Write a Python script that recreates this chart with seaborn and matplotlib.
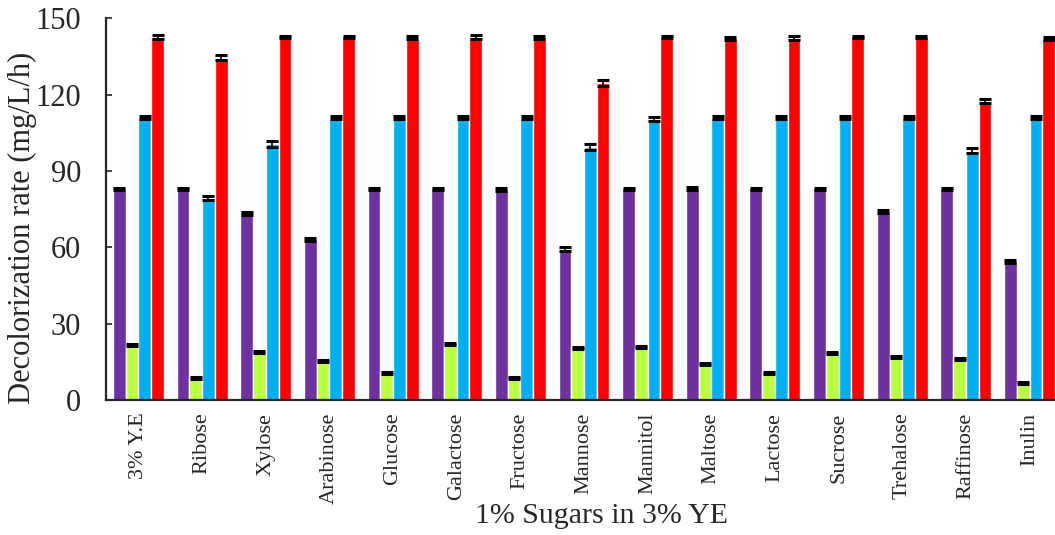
import pandas as pd
import matplotlib
matplotlib.use("Agg")
import matplotlib.pyplot as plt
import seaborn as sns

sugars = ["3% Y.E", "Ribose", "Xylose", "Arabinose", "Glucose", "Galactose",
          "Fructose", "Mannose", "Mannitol", "Maltose", "Lactose", "Sucrose",
          "Trehalose", "Raffinose", "Inulin"]
series = ["S1", "S2", "S3", "S4"]
colors = ["#7030A0", "#BBFF40", "#00B0F0", "#FF0000"]

purple = [83.0, 83.0, 73.4, 63.2, 83.0, 83.0, 82.8, 59.3, 83.0, 83.0, 83.0, 83.0, 74.0, 83.0, 54.6]
green = [21.5, 8.7, 19.0, 15.3, 10.5, 22.0, 8.7, 20.5, 21.0, 14.1, 10.5, 18.6, 16.9, 16.0, 6.8]
blue = [111.0, 79.3, 100.6, 111.0, 111.0, 111.0, 111.0, 99.5, 110.5, 111.0, 111.0, 111.0, 111.0, 98.0, 111.0]
red = [142.6, 134.5, 142.6, 142.6, 142.3, 142.6, 142.5, 124.4, 142.6, 142.1, 142.3, 142.6, 142.7, 117.5, 142.0]

err_purple = [0.5, 0.5, 0.6, 0.6, 0.5, 0.5, 0.5, 0.8, 0.5, 0.6, 0.5, 0.5, 0.6, 0.5, 0.6]
err_green = [0.4, 0.4, 0.5, 0.4, 0.4, 0.4, 0.4, 0.5, 0.4, 0.4, 0.4, 0.4, 0.4, 0.4, 0.5]
err_blue = [0.5, 0.7, 1.0, 0.5, 0.5, 0.5, 0.5, 1.1, 0.7, 0.5, 0.5, 0.5, 0.5, 1.0, 0.5]
err_red = [0.7, 0.9, 0.5, 0.5, 0.6, 0.7, 0.7, 1.2, 0.5, 0.6, 0.9, 0.5, 0.5, 0.8, 0.5]

values = [purple, green, blue, red]
errors = [err_purple, err_green, err_blue, err_red]

rows = []
for s, vals in zip(series, values):
    for sugar, v in zip(sugars, vals):
        rows.append({"sugar": sugar, "series": s, "rate": v})
df = pd.DataFrame(rows)

sns.set_style("ticks")
plt.rcParams["font.family"] = ["Liberation Serif", "DejaVu Serif"]

fig = plt.figure(figsize=(10.55, 5.35), dpi=100)
ax = fig.add_axes([0.1005, 0.252, 0.8995, 0.714])

sns.barplot(data=df, x="sugar", y="rate", hue="series", palette=colors,
            saturation=1, width=0.8, errorbar=None, legend=False, ax=ax)

# error bars on top of each bar
for cont, errs in zip(ax.containers, errors):
    xs = [b.get_x() + b.get_width() / 2 for b in cont]
    ys = [b.get_height() for b in cont]
    ax.errorbar(xs, ys, yerr=errs, fmt="none", ecolor="black",
                elinewidth=1.2, capsize=4.5, capthick=2.2, zorder=5)

ax.set_ylim(0, 150)
ax.set_yticks([0, 30, 60, 90, 120, 150])
ax.set_xlim(-0.51, 14.4)

ax.spines["top"].set_visible(False)
ax.spines["right"].set_visible(False)
ax.spines["left"].set_linewidth(1.6)
ax.spines["bottom"].set_linewidth(1.6)

ax.tick_params(axis="y", direction="in", length=4, width=1.2, labelsize=22, pad=18)
ax.tick_params(axis="x", length=0, labelsize=16, pad=9)
plt.setp(ax.get_xticklabels(), rotation=90)

ax.set_ylabel("Decolorization rate (mg/L/h)", fontsize=22)
ax.set_xlabel("1% Sugars in 3% YE", fontsize=21.5)
ax.yaxis.set_label_coords(-0.0727, 0.45)
ax.xaxis.set_label_coords(0.5226, -0.27)

fig.savefig("out.png", dpi=100)
